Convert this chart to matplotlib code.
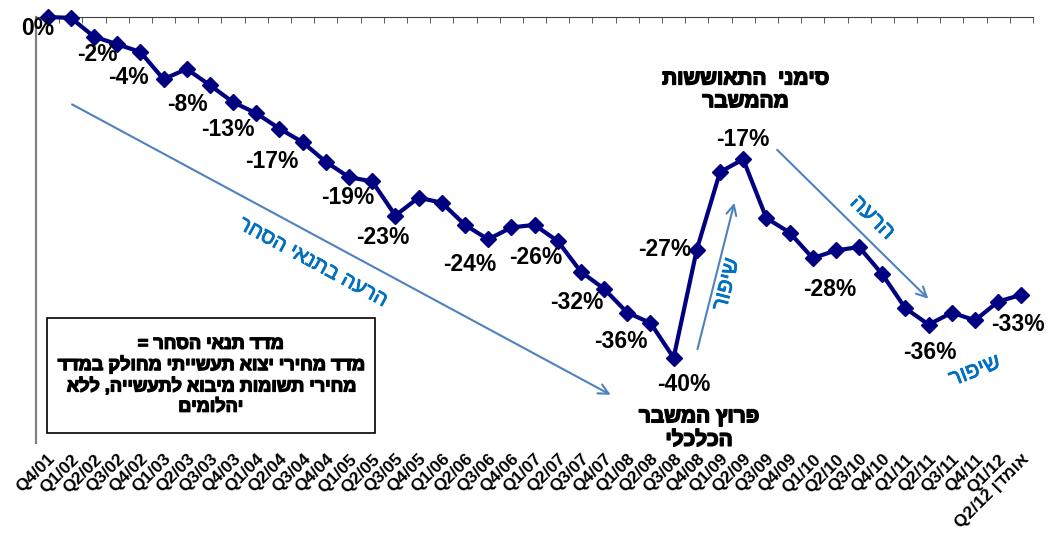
import numpy as np
import matplotlib
matplotlib.use('Agg')
import matplotlib.pyplot as plt
import matplotlib.patheffects as pe
from matplotlib.patches import Rectangle

plt.rcParams['font.family'] = ['Liberation Sans', 'DejaVu Sans']


def heb(s):
    # matplotlib has no bidi, so hebrew lines are reversed by hand
    return '\n'.join(line[::-1] for line in s.split('\n'))


def thick(c, w):
    # hebrew glyphs have no real bold face here, fake it with a stroke
    return [pe.withStroke(linewidth=w, foreground=c)]


quarters = ['Q4/01']
for yy in range(2, 12):
    for q in range(1, 5):
        quarters.append('Q%d/%02d' % (q, yy))
quarters += ['Q1/12', 'Q2/12 ' + heb('אומדן')]

tot = [0.0, -0.1, -2.3, -3.2, -4.1, -7.3, -6.1, -8.0, -10.0, -11.3,
       -13.1, -14.7, -17.0, -18.8, -19.3, -23.3, -21.2, -21.8, -24.4, -26.1,
       -24.7, -24.4, -26.3, -29.9, -31.9, -34.7, -35.9, -40.0, -27.3, -18.2,
       -16.7, -23.6, -25.3, -28.3, -27.4, -27.0, -30.2, -34.2, -36.1, -34.7,
       -35.6, -33.4, -32.6]

# which points get a value label, and where the label sits (x idx, y %)
lab_idx = [0, 2, 4, 7, 10, 12, 14, 15, 18, 22, 24, 26, 27, 28, 30, 33, 38, 42]
lab_x = [-0.43, 2.16, 3.5, 6.04, 7.77, 9.67, 12.95, 14.46, 18.2, 21.06,
         22.83, 24.73, 27.45, 26.63, 30.0, 33.75, 38.07, 41.86]
lab_y = [-1.3, -4.45, -7.15, -10.3, -13.2, -17.0, -21.2, -25.9, -29.1, -28.25,
         -33.5, -38.1, -43.1, -27.3, -14.4, -32.0, -39.4, -36.1]

x = np.arange(len(tot))

fig = plt.figure(figsize=(10.49, 5.37), dpi=100)
ax = fig.add_axes([36/1049, 1-443/537, 997/1049, 426/537])

ax.plot(x, tot, '-', color='#000080', lw=3, marker='D', ms=8,
        clip_on=False, zorder=5)

for i, tx, ty in zip(lab_idx, lab_x, lab_y):
    ax.text(tx, ty, '%.0f%%' % tot[i], ha='center', va='center',
            fontsize=16.5, fontweight='bold', color='black', zorder=6,
            clip_on=False)

ax.set_xlim(-0.5, len(tot) - 0.5)
ax.set_ylim(-50, 0)

ax.set_xticks(x)
ax.set_xticklabels(quarters, rotation=45, ha='right', va='top',
                   rotation_mode='anchor', fontsize=12.5, fontweight='bold')
ax.tick_params(axis='x', which='major', length=0, pad=6)
ax.set_xticks(np.arange(-0.5, len(tot), 1.0), minor=True)
ax.tick_params(axis='x', which='minor', top=True, bottom=False,
               direction='in', length=4, color='#404040')
ax.set_yticks([])

for s in ['bottom', 'right']:
    ax.spines[s].set_visible(False)
ax.spines['top'].set_color('#404040')
ax.spines['left'].set_color('#808080')
ax.spines['left'].set_linewidth(1.6)

# annotations
ax.text(30.1, -8.6, heb('סימני  התאוששות\nמהמשבר'), ha='center', va='center',
        fontsize=15, fontweight='bold', linespacing=1.25,
        path_effects=thick('black', 1.1))
ax.text(28.1, -48.3, heb('פרוץ המשבר\nהכלכלי'), ha='center', va='center',
        fontsize=15, fontweight='bold', linespacing=1.3, clip_on=False,
        path_effects=thick('black', 1.1))

ax.add_patch(Rectangle((-0.04, -48.8), 14.15, 13.5, fill=False, ec='black',
                       lw=1.2, zorder=4))
ax.text(7.03, -42.1, heb('מדד תנאי הסחר =\nמדד מחירי יצוא תעשייתי מחולק במדד\n'
                         'מחירי תשומות מיבוא לתעשייה, ללא\nיהלומים'),
        ha='center', va='center', fontsize=13, fontweight='bold',
        linespacing=1.25, zorder=5, path_effects=thick('black', 1.0))

arr = dict(arrowstyle='->', color='#4F81BD', lw=1.5, mutation_scale=18)
ax.annotate('', xy=(24.39, -44.5), xytext=(0.95, -10.1), arrowprops=arr)
ax.annotate('', xy=(29.65, -21.5), xytext=(28.0, -39.3), arrowprops=arr)
ax.annotate('', xy=(38.07, -33.3), xytext=(31.38, -15.36), arrowprops=arr)
ax.annotate('', xy=(42.6, -37.5), xytext=(38.02, -42.2), arrowprops=arr)

blue = '#0070C0'
ax.text(11.44, -28.8, heb('הרעה בתנאי הסחר'), rotation=-28.4, ha='center',
        va='center', fontsize=15, color=blue, rotation_mode='anchor',
        path_effects=thick(blue, 0.6))
ax.text(29.3, -31.4, heb('שיפור'), rotation=76, ha='center', va='center',
        fontsize=16, color=blue, rotation_mode='anchor',
        path_effects=thick(blue, 0.6))
ax.text(35.56, -23.6, heb('הרעה'), rotation=-44, ha='center', va='center',
        fontsize=16, color=blue, rotation_mode='anchor',
        path_effects=thick(blue, 0.6))
ax.text(40.0, -41.6, heb('שיפור'), rotation=21, ha='center', va='center',
        fontsize=16, color=blue, rotation_mode='anchor',
        path_effects=thick(blue, 0.6))

plt.savefig('out.png', dpi=100)
